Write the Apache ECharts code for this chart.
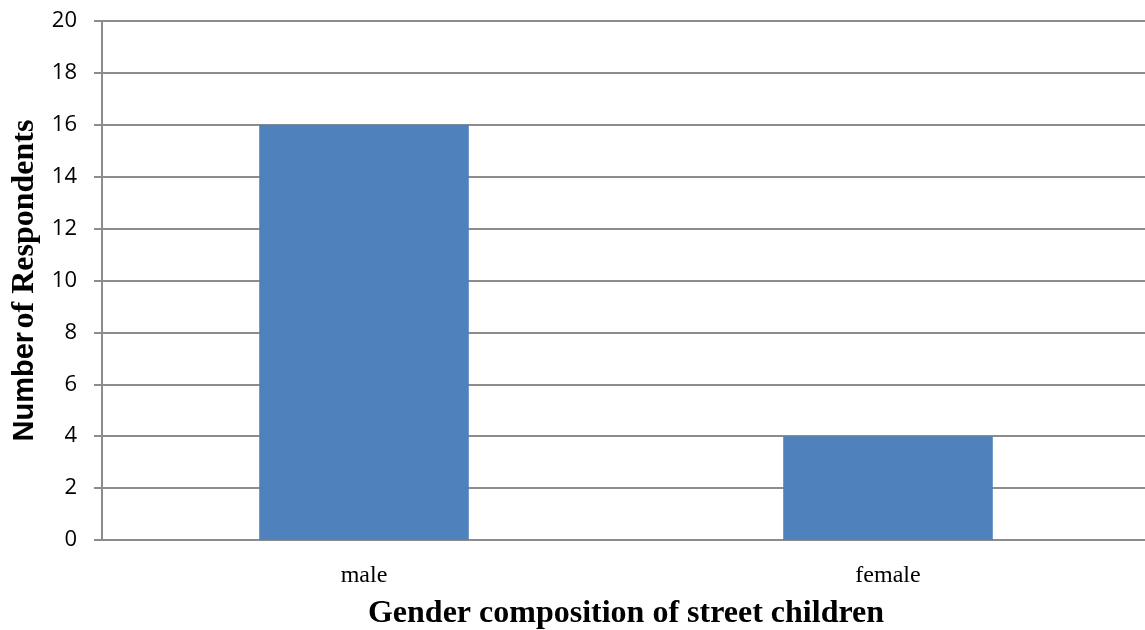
<!DOCTYPE html>
<html>
<head>
<meta charset="utf-8">
<script src="https://cdn.jsdelivr.net/npm/echarts@6/dist/echarts.min.js"></script>
<style>
  html, body { margin: 0; padding: 0; background: #fff; }
  #chart { width: 1145px; height: 630px; }
</style>
</head>
<body>
<div id="chart"></div>
<script>
const categories = ['male', 'female'];
const respondents = [16, 4];
const yTicks = { min: 0, max: 20, interval: 2 };

const chart = echarts.init(document.getElementById('chart'));
const option = {
  animation: false,
  grid: {
    left: 102,
    top: 21,
    right: -5,
    bottom: 90,
    outerBoundsMode: 'none',
  },
  xAxis: {
    type: 'category',
    data: categories,
    name: 'Gender composition of street children',
    nameLocation: 'middle',
    nameGap: 58,
    nameTextStyle: {
      fontFamily: 'Liberation Serif',
      fontWeight: 'bold',
      fontSize: 32,
      color: '#000',
    },
    axisLine: { lineStyle: { color: '#8c8c8c', width: 2 } },
    axisTick: { show: false },
    axisLabel: {
      fontFamily: 'Liberation Serif',
      fontSize: 24,
      color: '#000',
      margin: 24,
    },
  },
  yAxis: {
    type: 'value',
    min: yTicks.min,
    max: yTicks.max,
    interval: yTicks.interval,
    name: '{a|Number} {b|of Respondents}',
    nameLocation: 'middle',
    nameGap: 59,
    nameTextStyle: {
      color: '#000',
      rich: {
        a: { fontFamily: 'Liberation Sans', fontWeight: 'bold', fontSize: 29, color: '#000' },
        b: { fontFamily: 'Liberation Serif', fontWeight: 'bold', fontSize: 32, color: '#000' },
      },
    },
    axisLine: { show: true, lineStyle: { color: '#8c8c8c', width: 2 } },
    axisTick: { show: true, length: 8, lineStyle: { color: '#8c8c8c', width: 2 } },
    splitLine: { lineStyle: { color: '#8c8c8c', width: 2 } },
    axisLabel: {
      fontFamily: 'Open Sans',
      fontSize: 22,
      color: '#000',
      margin: 25,
    },
  },
  series: [
    {
      type: 'bar',
      data: respondents,
      barWidth: '40%',
      itemStyle: { color: '#4f81bd' },
    },
  ],
};
chart.setOption(option);
</script>
</body>
</html>
